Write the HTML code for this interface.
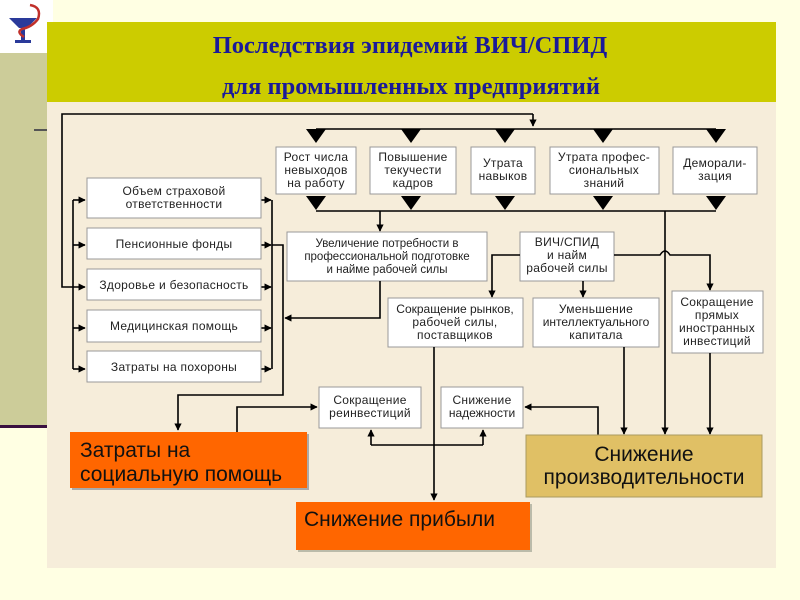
<!DOCTYPE html>
<html><head><meta charset="utf-8"><style>
body{margin:0;width:800px;height:600px;overflow:hidden;background:#FFFFE3}
svg{display:block}
.b{fill:#fff;stroke:#999;stroke-width:1}
.t{font-family:"Liberation Sans",sans-serif;font-size:12px;letter-spacing:0.3px;fill:#222;text-anchor:middle}
.l{stroke:#000;stroke-width:1.6;fill:none}
.big{font-family:"Liberation Sans",sans-serif;font-size:21px;fill:#111}
</style></head><body>
<svg width="800" height="600" viewBox="0 0 800 600">
<defs>
<marker id="a" viewBox="0 0 10 10" refX="9" refY="5" markerWidth="4.5" markerHeight="4.5" orient="auto"><path d="M0,0L10,5L0,10z" fill="#000"/></marker>
</defs>
<rect x="0" y="53" width="47" height="373" fill="#CCCC99"/>
<rect x="0" y="425" width="47" height="3" fill="#3a1040"/>
<rect x="0" y="0" width="53" height="53" fill="#fff"/>
<path d="M9,18 h28 l-10,10 h-8z" fill="#2a3a9a"/>
<rect x="21" y="27" width="4" height="14" fill="#2a3a9a"/>
<rect x="15" y="40" width="16" height="3" fill="#2a3a9a"/>
<path d="M30,5 q12,2 8,14 q-6,8 -16,10 q-6,3 2,8" fill="none" stroke="#c0302a" stroke-width="2.5"/>
<rect x="34" y="129" width="13" height="2" fill="#555"/>
<rect x="47" y="22" width="729" height="80" fill="#CCCC00"/>
<rect x="47" y="102" width="729" height="466" fill="#F6EDDA"/>
<text x="410" y="53" font-family="Liberation Serif,serif" font-weight="bold" font-size="24.5" fill="#1a1a99" text-anchor="middle">Последствия эпидемий ВИЧ/СПИД</text>
<text x="411" y="94" font-family="Liberation Serif,serif" font-weight="bold" font-size="24.5" fill="#1a1a99" text-anchor="middle">для промышленных предприятий</text>

<path class="l" d="M533,114 H62 V287 H85" marker-end="url(#a)"/>
<path class="l" d="M533,114 V126" marker-end="url(#a)"/>
<path class="l" d="M316,129 H716"/>
<path class="l" d="M316,211 H716"/>
<g fill="#000">
<path d="M306,129h20l-10,14z"/><path d="M401,129h20l-10,14z"/><path d="M495,129h20l-10,14z"/><path d="M593,129h20l-10,14z"/><path d="M706,129h20l-10,14z"/>
<path d="M306,196h20l-10,14z"/><path d="M401,196h20l-10,14z"/><path d="M495,196h20l-10,14z"/><path d="M593,196h20l-10,14z"/><path d="M706,196h20l-10,14z"/>
</g>
<rect class="b" x="276" y="147" width="80" height="47"/>
<text class="t" x="316" y="161">Рост числа</text><text class="t" x="316" y="174">невыходов</text><text class="t" x="316" y="187">на работу</text>
<rect class="b" x="370" y="147" width="86" height="47"/>
<text class="t" x="413" y="161">Повышение</text><text class="t" x="413" y="174">текучести</text><text class="t" x="413" y="187">кадров</text>
<rect class="b" x="471" y="147" width="64" height="47"/>
<text class="t" x="503" y="167">Утрата</text><text class="t" x="503" y="180">навыков</text>
<rect class="b" x="550" y="147" width="109" height="47"/>
<text class="t" x="604" y="161">Утрата профес-</text><text class="t" x="604" y="174">сиональных</text><text class="t" x="604" y="187">знаний</text>
<rect class="b" x="673" y="147" width="84" height="47"/>
<text class="t" x="715" y="167">Деморали-</text><text class="t" x="715" y="180">зация</text>

<path class="l" d="M380,211 V231" marker-end="url(#a)"/>
<rect class="b" x="287" y="232" width="200" height="49"/>
<text class="t" x="387" y="247" style="font-size:11.5px;letter-spacing:0">Увеличение потребности в</text><text class="t" x="387" y="260" style="font-size:11.5px;letter-spacing:0">профессиональной подготовке</text><text class="t" x="387" y="273" style="font-size:11.5px;letter-spacing:0">и найме рабочей силы</text>

<path class="l" d="M665,211 V434" marker-end="url(#a)"/>
<rect class="b" x="520" y="232" width="94" height="49"/>
<text class="t" x="567" y="246">ВИЧ/СПИД</text><text class="t" x="567" y="259">и найм</text><text class="t" x="567" y="272">рабочей силы</text>
<path class="l" d="M520,255 H492 V297" marker-end="url(#a)"/>
<path class="l" d="M583,281 V297" marker-end="url(#a)"/>
<path class="l" d="M614,255 H660 q5,-8 10,0 H710 V290" marker-end="url(#a)"/>

<rect class="b" x="388" y="298" width="135" height="49"/>
<text class="t" x="455" y="313" style="letter-spacing:0">Сокращение рынков,</text><text class="t" x="455" y="326">рабочей силы,</text><text class="t" x="455" y="339">поставщиков</text>
<rect class="b" x="533" y="298" width="126" height="49"/>
<text class="t" x="596" y="313">Уменьшение</text><text class="t" x="596" y="326" style="letter-spacing:0">интеллектуального</text><text class="t" x="596" y="339">капитала</text>
<rect class="b" x="672" y="291" width="91" height="62"/>
<text class="t" x="717" y="306">Сокращение</text><text class="t" x="717" y="319">прямых</text><text class="t" x="717" y="332">иностранных</text><text class="t" x="717" y="345">инвестиций</text>
<path class="l" d="M624,347 V434" marker-end="url(#a)"/>
<path class="l" d="M710,353 V434" marker-end="url(#a)"/>

<path class="l" d="M73,200 V369"/>
<path class="l" d="M73,200 H85" marker-end="url(#a)"/><path class="l" d="M73,245 H85" marker-end="url(#a)"/><path class="l" d="M73,328 H85" marker-end="url(#a)"/><path class="l" d="M73,369 H85" marker-end="url(#a)"/>
<path class="l" d="M272,200 V369"/>
<path class="l" d="M261,200 H271" marker-end="url(#a)"/><path class="l" d="M261,245 H271" marker-end="url(#a)"/><path class="l" d="M261,287 H271" marker-end="url(#a)"/><path class="l" d="M261,328 H271" marker-end="url(#a)"/><path class="l" d="M261,369 H271" marker-end="url(#a)"/>
<rect class="b" x="87" y="178" width="174" height="40"/>
<text class="t" x="174" y="195">Объем страховой</text><text class="t" x="174" y="208">ответственности</text>
<rect class="b" x="87" y="228" width="174" height="31"/><text class="t" x="174" y="248">Пенсионные фонды</text>
<rect class="b" x="87" y="269" width="174" height="31"/><text class="t" x="174" y="289">Здоровье и безопасность</text>
<rect class="b" x="87" y="310" width="174" height="32"/><text class="t" x="174" y="330">Медицинская помощь</text>
<rect class="b" x="87" y="351" width="174" height="31"/><text class="t" x="174" y="371">Затраты на похороны</text>

<path class="l" d="M272,245 H283 V395 H178 V430" marker-end="url(#a)"/>
<path class="l" d="M380,281 V318 H285" marker-end="url(#a)"/>

<rect x="72" y="434" width="237" height="56" fill="#aaa"/>
<rect x="70" y="432" width="237" height="56" fill="#FF6600"/>
<text x="80" y="457" class="big">Затраты на</text>
<text x="80" y="481" class="big">социальную помощь</text>

<path class="l" d="M237,432 V407 H317" marker-end="url(#a)"/>
<rect class="b" x="319" y="387" width="102" height="41"/>
<text class="t" x="370" y="404">Сокращение</text><text class="t" x="370" y="417">реинвестиций</text>
<rect class="b" x="441" y="387" width="82" height="41"/>
<text class="t" x="482" y="404">Снижение</text><text class="t" x="482" y="417" style="letter-spacing:0">надежности</text>
<path class="l" d="M371,445 H483"/>
<path class="l" d="M371,445 V430" marker-end="url(#a)"/><path class="l" d="M483,445 V430" marker-end="url(#a)"/>
<path class="l" d="M434,347 V500" marker-end="url(#a)"/>
<path class="l" d="M598,435 V407 H525" marker-end="url(#a)"/>

<rect x="526" y="435" width="236" height="62" fill="#E0C065" stroke="#aa9a60"/>
<text x="644" y="461" class="big" text-anchor="middle">Снижение</text>
<text x="644" y="484" class="big" text-anchor="middle">производительности</text>

<rect x="298" y="504" width="234" height="48" fill="#bba"/>
<rect x="296" y="502" width="234" height="48" fill="#FF6600"/>
<text x="304" y="526" class="big">Снижение прибыли</text>
</svg>
</body></html>
